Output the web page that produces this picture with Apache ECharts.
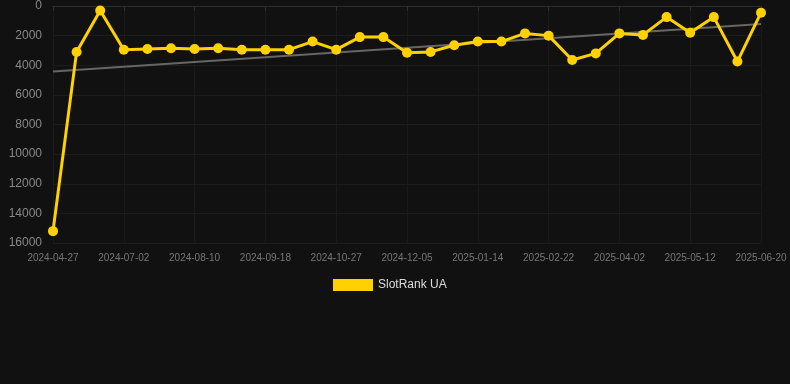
<!DOCTYPE html>
<html>
<head>
<meta charset="utf-8">
<script src="https://cdn.jsdelivr.net/npm/echarts@6/dist/echarts.min.js"></script>
<style>
html,body{margin:0;padding:0;background:#111111;}
#c{width:790px;height:384px;}
</style>
</head>
<body>
<div id="c"></div>
<script>
var dates = ['2024-04-27','2024-05-19','2024-06-10','2024-07-02','2024-07-15','2024-07-28','2024-08-10','2024-08-23','2024-09-05','2024-09-18','2024-10-01','2024-10-14','2024-10-27','2024-11-09','2024-11-22','2024-12-05','2024-12-18','2024-12-31','2025-01-14','2025-01-27','2025-02-09','2025-02-22','2025-03-07','2025-03-20','2025-04-02','2025-04-15','2025-04-28','2025-05-12','2025-05-25','2025-06-07','2025-06-20'];
var rankValues = [15200,3100,300,2950,2900,2850,2900,2850,2950,2950,2950,2400,2950,2100,2100,3150,3100,2650,2400,2400,1850,2000,3650,3200,1850,1950,750,1800,750,3750,450];
var trendStart = 4430;
var trendEnd = 1220;
var seriesName = 'SlotRank UA';

var trendData = dates.map(function(d, i){
  if (i === 0) return trendStart;
  if (i === dates.length - 1) return trendEnd;
  return null;
});

var chart = echarts.init(document.getElementById('c'));
chart.setOption({
  backgroundColor: '#111111',
  animation: false,
  grid: {left: 53, right: 29, top: 6, bottom: 141},
  legend: {
    data: [seriesName],
    left: 328,
    bottom: 88,
    itemWidth: 40,
    itemHeight: 12,
    textStyle: {color: '#dddddd', fontSize: 12, fontFamily: 'Liberation Sans, Arial, sans-serif'},
    icon: 'rect'
  },
  xAxis: {
    type: 'category',
    data: dates,
    boundaryGap: false,
    axisLine: {lineStyle: {color: '#2e2e2e'}},
    axisTick: {show: true, interval: 2, lineStyle: {color: '#2e2e2e'}},
    axisLabel: {interval: 2, color: '#777777', fontSize: 10, fontFamily: 'Liberation Sans, Arial, sans-serif', margin: 10},
    splitLine: {show: true, interval: 2, lineStyle: {color: '#1a1a1a'}}
  },
  yAxis: {
    type: 'value',
    inverse: true,
    min: 0,
    max: 16000,
    interval: 2000,
    axisLine: {show: false},
    axisTick: {show: false},
    axisLabel: {color: '#888888', fontSize: 12, fontFamily: 'Liberation Sans, Arial, sans-serif', margin: 11,
      formatter: function(v){ return String(v); }},
    splitLine: {lineStyle: {color: '#1c1c1c'}}
  },
  series: [
    {
      name: 'trend',
      type: 'line',
      data: trendData,
      connectNulls: true,
      symbol: 'none',
      lineStyle: {color: '#666666', width: 2},
      z: 1
    },
    {
      name: seriesName,
      type: 'line',
      data: rankValues,
      symbol: 'circle',
      symbolSize: 10,
      itemStyle: {color: '#ffd100'},
      lineStyle: {color: '#ffd100', width: 3},
      z: 2
    }
  ]
});
</script>
</body>
</html>
